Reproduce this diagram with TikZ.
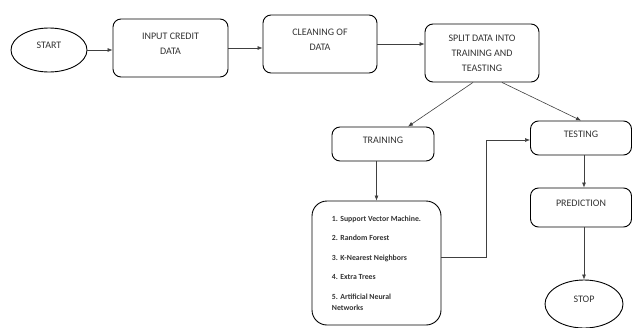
\documentclass[tikz,border=0pt]{standalone}
\usepackage{fontspec}
\setmainfont{Carlito}
\usetikzlibrary{arrows.meta,shapes.geometric}

\begin{document}
\begin{tikzpicture}[x=1pt,y=-1pt,
		box/.style={draw,line width=0.9pt,rounded corners=8pt,align=center,text=black!80,font=\fontsize{10}{15}\selectfont,text depth=8pt},
		oval/.style={draw,ellipse,line width=0.9pt,inner sep=0pt,text=black!80,font=\fontsize{10}{15}\selectfont,text depth=9pt},
		arr/.style={-{Latex[length=5pt,width=4pt]},line width=0.6pt,black!75}]
			\useasboundingbox (0,0) rectangle (632,327);
			% top row
			\node[oval,minimum width=76pt,minimum height=44pt] (start) at (49,50) {START};
			\node[box,minimum width=115pt,minimum height=58pt] (input) at (170.5,48) {INPUT CREDIT\\DATA};
			\node[box,minimum width=114pt,minimum height=58pt] (clean) at (320,44) {CLEANING OF\\DATA};
			\node[box,minimum width=114pt,minimum height=58pt,text depth=0pt] (split) at (482,53) {SPLIT DATA INTO\\TRAINING AND\\TEASTING};
			% lower part
			\node[box,minimum width=102pt,minimum height=34pt] (train) at (383,144) {TRAINING};
			\node[box,minimum width=101pt,minimum height=34pt] (test) at (581,138) {TESTING};
			\node[box,minimum width=101pt,minimum height=39pt] (pred) at (581,207.5) {PREDICTION};
			\node[oval,minimum width=78pt,minimum height=48pt] (stop) at (584,304) {STOP};
			\node[box,rounded corners=15pt,minimum width=129pt,minimum height=124pt,align=left,text depth=0pt,font=\fontsize{7.8}{11}\bfseries] (algo) at (376.5,263)
				{1. Support Vector Machine.\\[8.5pt]2. Random Forest\\[8.5pt]3. K-Nearest Neighbors\\[8.5pt]4. Extra Trees\\[8.5pt]5. Artificial Neural\\Networks};
			% connectors
			\draw[arr] (start.east) -- (start.east -| input.west);
			\draw[arr] (input.east) -- (input.east -| clean.west);
			\draw[arr] (clean.east) -- (clean.east -| split.west);
			\draw[arr] ([xshift=-9pt]split.south) -- ([xshift=25pt]train.north);
			\draw[arr] ([xshift=20pt]split.south) -- (test.north);
			\draw[arr] (algo.north |- train.south) -- (algo.north);
			\draw[arr] ([yshift=6pt]algo.east) -- ++(45,0) |- ([yshift=-2pt]test.west);
			\draw[arr] ([xshift=3pt]test.south) -- ([xshift=3pt]pred.north);
			\draw[arr] ([xshift=3pt]pred.south) -- (stop.north);
		\end{tikzpicture}
\end{document}
